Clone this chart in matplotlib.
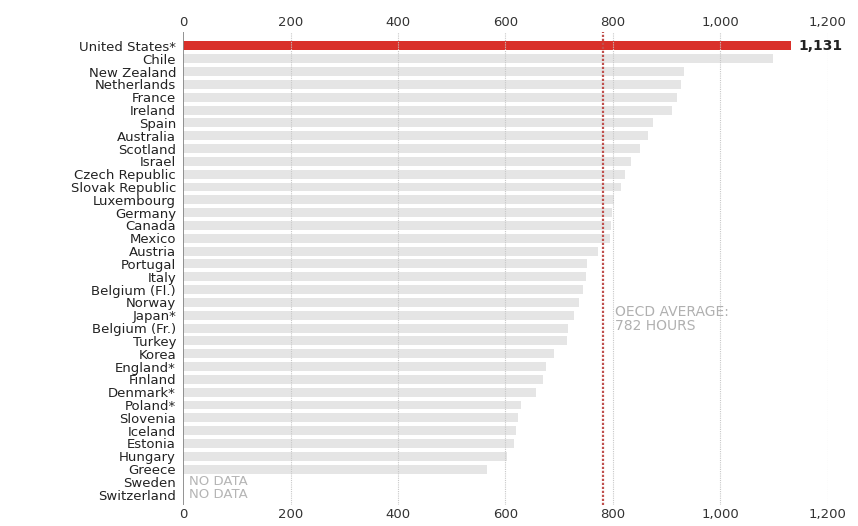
import numpy as np
import matplotlib
matplotlib.use("Agg")
from matplotlib import pyplot as plt

# data (hours)
countries = ["United States*", "Chile", "New Zealand", "Netherlands", "France",
             "Ireland", "Spain", "Australia", "Scotland", "Israel",
             "Czech Republic", "Slovak Republic", "Luxembourg", "Germany",
             "Canada", "Mexico", "Austria", "Portugal", "Italy",
             "Belgium (Fl.)", "Norway", "Japan*", "Belgium (Fr.)", "Turkey",
             "Korea", "England*", "Finland", "Denmark*", "Poland*",
             "Slovenia", "Iceland", "Estonia", "Hungary", "Greece",
             "Sweden", "Switzerland"]
hours = [1131, 1097, 932, 927, 920, 910, 875, 866, 850, 834,
         823, 815, 802, 799, 797, 795, 773, 752, 749, 744,
         736, 727, 716, 714, 690, 676, 669, 656, 629, 623,
         620, 615, 602, 566, None, None]
oecd_avg = 782
xticks = [0, 200, 400, 600, 800, 1000, 1200]
xticklabels = ["0", "200", "400", "600", "800", "1,000", "1,200"]

fig = plt.figure(figsize=(8.58, 5.26), dpi=100)
ax = fig.add_axes([0.2133, 0.0399, 0.7517, 0.8993])

y = np.arange(len(countries))
vals = [h if h is not None else 0 for h in hours]
colors = ["#d9302a"] + ["#e5e5e5"] * (len(countries) - 1)
ax.barh(y, vals, height=0.7, color=colors, zorder=1)

# dotted gridlines
for t in xticks[1:]:
    ax.axvline(t, color="#c8c8c8", lw=0.8, ls=(0, (1, 1)), zorder=2)
ax.axvline(0, color="#8a8a8a", lw=1.3, zorder=3)
ax.axvline(oecd_avg, color="#c0504d", lw=1.6, ls=(0, (1, 0.8)), zorder=3)

ax.text(hours[0] + 14, 0, "1,131", va="center", ha="left",
        fontsize=10, fontweight="bold", color="#222222")
for i, h in enumerate(hours):
    if h is None:
        ax.text(12, i, "NO DATA", va="center", ha="left",
                fontsize=9.5, color="#b5b5b5")

ax.text(803, 21.3, "OECD AVERAGE:\n782 HOURS", va="center", ha="left",
        fontsize=10, color="#b0b0b0", linespacing=0.95)

ax.set_xlim(0, 1200)
ax.set_ylim(35.8, -1.09)
ax.set_xticks(xticks)
ax.set_xticklabels(xticklabels)
ax.set_yticks(y)
ax.set_yticklabels(countries)
ax.tick_params(axis="x", length=0, labelsize=9.5, colors="#333333",
               top=True, labeltop=True, bottom=True, labelbottom=True, pad=2)
ax.tick_params(axis="y", length=0, labelsize=9.5, colors="#222222", pad=5)
for s in ax.spines.values():
    s.set_visible(False)

fig.savefig("out.png", dpi=100)
